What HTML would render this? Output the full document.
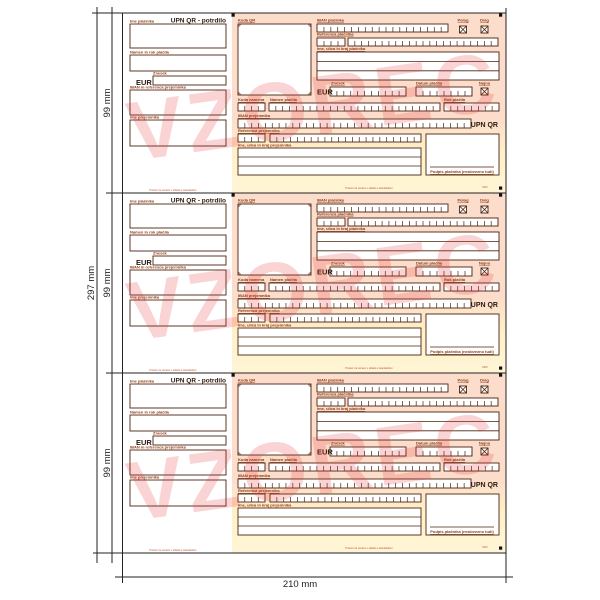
<!DOCTYPE html>
<html><head><meta charset="utf-8"><style>
html,body{margin:0;padding:0;background:#fff;}
svg{display:block;}
.l{font-family:"Liberation Sans",sans-serif;font-size:4px;font-weight:bold;fill:#8a3a16;text-decoration:underline;}
.t{font-family:"Liberation Sans",sans-serif;font-weight:bold;fill:#2a1a10;}
.tiny{font-family:"Liberation Sans",sans-serif;font-size:2.6px;fill:#c0502a;}
.d{font-family:"Liberation Sans",sans-serif;font-size:9.5px;fill:#222;}
.wm{font-family:"Liberation Sans",sans-serif;font-weight:bold;font-size:84px;fill:#e83030;opacity:0.2;}
</style></head><body>
<svg width="600" height="600" viewBox="0 0 600 600" xmlns="http://www.w3.org/2000/svg">
<defs>
<linearGradient id="gr" x1="0" y1="0" x2="0" y2="1">
<stop offset="0" stop-color="#fcdccb"/>
<stop offset="0.58" stop-color="#fcdccb"/>
<stop offset="0.78" stop-color="#fff1c8"/>
<stop offset="1" stop-color="#fff5d6"/>
</linearGradient>
<g id="b">
<rect x="232" y="0" width="274" height="180" fill="url(#gr)"/>
<g fill="#111">
<rect x="231.5" y="0.5" width="3.2" height="3.2"/>
<rect x="499" y="0.5" width="3.2" height="3.2"/>
<rect x="499" y="173.5" width="3.2" height="3.2"/>
</g>
<g fill="#fff" stroke="#4a2410" stroke-width="0.9">
<rect x="130" y="11" width="96" height="24"/>
<rect x="130" y="42" width="96" height="16"/>
<rect x="153" y="63" width="73" height="9"/>
<rect x="130" y="77" width="96" height="25"/>
<rect x="130" y="107" width="96" height="26"/>
<rect x="238" y="11" width="73" height="71"/>
<rect x="317" y="11" width="131" height="8"/>
<rect x="459.5" y="13" width="7" height="7"/>
<rect x="481" y="13" width="7" height="7"/>
<rect x="317" y="25" width="28" height="8"/>
<rect x="348" y="25" width="150" height="8"/>
<rect x="317" y="39" width="182" height="28"/>
<rect x="330" y="74" width="76" height="9"/>
<rect x="416" y="74" width="56" height="9"/>
<rect x="481" y="75" width="7" height="7"/>
<rect x="238" y="90" width="27" height="8"/>
<rect x="269" y="90" width="171" height="8"/>
<rect x="444" y="90" width="55" height="8"/>
<rect x="238" y="106" width="233" height="9"/>
<rect x="238" y="121" width="27" height="8"/>
<rect x="270" y="121" width="151" height="8"/>
<rect x="238" y="135" width="183" height="27"/>
<rect x="426" y="121" width="73" height="41"/>
</g>
<g stroke="#4a2410" stroke-width="0.8" fill="none">
<line x1="317" y1="48.5" x2="499" y2="48.5"/>
<line x1="317" y1="57.8" x2="499" y2="57.8"/>
<line x1="238" y1="144" x2="421" y2="144"/>
<line x1="238" y1="153" x2="421" y2="153"/>
<line x1="430" y1="154" x2="494" y2="154"/>
<path d="M459.5 13 L466.5 20 M466.5 13 L459.5 20 M481 13 L488 20 M488 13 L481 20 M481 75 L488 82 M488 75 L481 82"/>
<path d="M239 14 v-2 h2 M310 14 v-2 h-2 M239 79 v2 h2 M310 79 v2 h-2" stroke-width="0.6"/>
</g>
<g stroke="#4a2410" fill="none">
<line x1="323.6" y1="16.5" x2="448" y2="16.5" stroke-width="5" stroke-dasharray="0.7 6.195"/>
<line x1="323.65" y1="30.5" x2="345" y2="30.5" stroke-width="5" stroke-dasharray="0.7 6.3"/>
<line x1="354.47" y1="30.5" x2="498" y2="30.5" stroke-width="5" stroke-dasharray="0.7 6.118"/>
<line x1="336.56" y1="80.5" x2="406" y2="80.5" stroke-width="5" stroke-dasharray="0.7 6.209"/>
<line x1="422.65" y1="80.5" x2="472" y2="80.5" stroke-width="5" stroke-dasharray="0.7 6.3"/>
<line x1="244.4" y1="95.5" x2="265" y2="95.5" stroke-width="5" stroke-dasharray="0.7 6.05"/>
<line x1="275.49" y1="95.5" x2="440" y2="95.5" stroke-width="5" stroke-dasharray="0.7 6.14"/>
<line x1="450.52" y1="95.5" x2="499" y2="95.5" stroke-width="5" stroke-dasharray="0.7 6.175"/>
<line x1="244.5" y1="112.5" x2="471" y2="112.5" stroke-width="5" stroke-dasharray="0.7 6.153"/>
<line x1="244.4" y1="126.5" x2="265" y2="126.5" stroke-width="5" stroke-dasharray="0.7 6.05"/>
<line x1="276.51" y1="126.5" x2="421" y2="126.5" stroke-width="5" stroke-dasharray="0.7 6.164"/>
</g>
</g>
</defs>

<use href="#b" x="0" y="13"/>
<use href="#b" x="0" y="193"/>
<use href="#b" x="0" y="373"/>

<g stroke="#222" stroke-width="1" fill="none">
<line x1="97" y1="7" x2="97" y2="563"/>
<line x1="112" y1="7" x2="112" y2="563"/>
<line x1="122.5" y1="13" x2="122.5" y2="583"/>
<line x1="506" y1="8" x2="506" y2="583"/>
<line x1="92" y1="13" x2="506" y2="13"/>
<line x1="106" y1="193" x2="506" y2="193"/>
<line x1="106" y1="373" x2="506" y2="373"/>
<line x1="93" y1="553" x2="506" y2="553"/>
<line x1="115" y1="577" x2="513" y2="577"/>
</g>
<text class="d" transform="translate(94,283) rotate(-90)" text-anchor="middle">297 mm</text>
<text class="d" transform="translate(110,103) rotate(-90)" text-anchor="middle">99 mm</text>
<text class="d" transform="translate(110,283) rotate(-90)" text-anchor="middle">99 mm</text>
<text class="d" transform="translate(110,463) rotate(-90)" text-anchor="middle">99 mm</text>
<text class="d" x="300" y="587" text-anchor="middle">210 mm</text>

<g transform="translate(0,13)">
<text class="l" x="130" y="9.5">Ime plačnika</text>
<text class="l" x="130" y="40.5">Namen in rok plačila</text>
<text class="l" x="153" y="61.5">Znesek</text>
<text class="l" x="130" y="75.5">IBAN in referenca prejemnika</text>
<text class="l" x="130" y="105.5">Ime prejemnika</text>
<text class="t" x="226" y="9.5" font-size="6.5" text-anchor="end">UPN QR - potrdilo</text>
<text class="t" x="136" y="72" font-size="7.5">EUR</text>
<text class="l" x="238" y="8.5">Koda QR</text>
<text class="l" x="317" y="8.5">IBAN plačnika</text>
<text class="l" x="463" y="8.5" text-anchor="middle">Polog</text>
<text class="l" x="484.5" y="8.5" text-anchor="middle">Dvig</text>
<text class="l" x="317" y="22.5">Referenca plačnika</text>
<text class="l" x="317" y="37">Ime, ulica in kraj plačnika</text>
<text class="l" x="331" y="71.5">Znesek</text>
<text class="l" x="416" y="71.5">Datum plačila</text>
<text class="l" x="484.5" y="71.5" text-anchor="middle">Nujno</text>
<text class="t" x="317" y="81.5" font-size="7.5">EUR</text>
<text class="l" x="238" y="88">Koda namena</text>
<text class="l" x="270" y="88">Namen plačila</text>
<text class="l" x="444" y="88">Rok plačila</text>
<text class="l" x="238" y="104">IBAN prejemnika</text>
<text class="t" x="498" y="114" font-size="7" text-anchor="end">UPN QR</text>
<text class="l" x="238" y="119">Referenca prejemnika</text>
<text class="l" x="238" y="133.5">Ime, ulica in kraj prejemnika</text>
<text class="l" x="462" y="160" text-anchor="middle">Podpis plačnika (neobvezno tudi)</text>
<text class="tiny" x="173" y="178" text-anchor="middle">Prostor za vezavo v skladu s standardom</text>
<text class="tiny" x="369" y="176" text-anchor="middle">Prostor za vezavo v skladu s standardom</text>
<text class="tiny" x="482" y="175">UPN</text>
<text class="wm" x="132" y="148" transform="rotate(-8 132 148)" textLength="370" lengthAdjust="spacing">VZOREC</text>
</g>

<g transform="translate(0,193)">
<text class="l" x="130" y="9.5">Ime plačnika</text>
<text class="l" x="130" y="40.5">Namen in rok plačila</text>
<text class="l" x="153" y="61.5">Znesek</text>
<text class="l" x="130" y="75.5">IBAN in referenca prejemnika</text>
<text class="l" x="130" y="105.5">Ime prejemnika</text>
<text class="t" x="226" y="9.5" font-size="6.5" text-anchor="end">UPN QR - potrdilo</text>
<text class="t" x="136" y="72" font-size="7.5">EUR</text>
<text class="l" x="238" y="8.5">Koda QR</text>
<text class="l" x="317" y="8.5">IBAN plačnika</text>
<text class="l" x="463" y="8.5" text-anchor="middle">Polog</text>
<text class="l" x="484.5" y="8.5" text-anchor="middle">Dvig</text>
<text class="l" x="317" y="22.5">Referenca plačnika</text>
<text class="l" x="317" y="37">Ime, ulica in kraj plačnika</text>
<text class="l" x="331" y="71.5">Znesek</text>
<text class="l" x="416" y="71.5">Datum plačila</text>
<text class="l" x="484.5" y="71.5" text-anchor="middle">Nujno</text>
<text class="t" x="317" y="81.5" font-size="7.5">EUR</text>
<text class="l" x="238" y="88">Koda namena</text>
<text class="l" x="270" y="88">Namen plačila</text>
<text class="l" x="444" y="88">Rok plačila</text>
<text class="l" x="238" y="104">IBAN prejemnika</text>
<text class="t" x="498" y="114" font-size="7" text-anchor="end">UPN QR</text>
<text class="l" x="238" y="119">Referenca prejemnika</text>
<text class="l" x="238" y="133.5">Ime, ulica in kraj prejemnika</text>
<text class="l" x="462" y="160" text-anchor="middle">Podpis plačnika (neobvezno tudi)</text>
<text class="tiny" x="173" y="178" text-anchor="middle">Prostor za vezavo v skladu s standardom</text>
<text class="tiny" x="369" y="176" text-anchor="middle">Prostor za vezavo v skladu s standardom</text>
<text class="tiny" x="482" y="175">UPN</text>
<text class="wm" x="132" y="148" transform="rotate(-8 132 148)" textLength="370" lengthAdjust="spacing">VZOREC</text>
</g>

<g transform="translate(0,373)">
<text class="l" x="130" y="9.5">Ime plačnika</text>
<text class="l" x="130" y="40.5">Namen in rok plačila</text>
<text class="l" x="153" y="61.5">Znesek</text>
<text class="l" x="130" y="75.5">IBAN in referenca prejemnika</text>
<text class="l" x="130" y="105.5">Ime prejemnika</text>
<text class="t" x="226" y="9.5" font-size="6.5" text-anchor="end">UPN QR - potrdilo</text>
<text class="t" x="136" y="72" font-size="7.5">EUR</text>
<text class="l" x="238" y="8.5">Koda QR</text>
<text class="l" x="317" y="8.5">IBAN plačnika</text>
<text class="l" x="463" y="8.5" text-anchor="middle">Polog</text>
<text class="l" x="484.5" y="8.5" text-anchor="middle">Dvig</text>
<text class="l" x="317" y="22.5">Referenca plačnika</text>
<text class="l" x="317" y="37">Ime, ulica in kraj plačnika</text>
<text class="l" x="331" y="71.5">Znesek</text>
<text class="l" x="416" y="71.5">Datum plačila</text>
<text class="l" x="484.5" y="71.5" text-anchor="middle">Nujno</text>
<text class="t" x="317" y="81.5" font-size="7.5">EUR</text>
<text class="l" x="238" y="88">Koda namena</text>
<text class="l" x="270" y="88">Namen plačila</text>
<text class="l" x="444" y="88">Rok plačila</text>
<text class="l" x="238" y="104">IBAN prejemnika</text>
<text class="t" x="498" y="114" font-size="7" text-anchor="end">UPN QR</text>
<text class="l" x="238" y="119">Referenca prejemnika</text>
<text class="l" x="238" y="133.5">Ime, ulica in kraj prejemnika</text>
<text class="l" x="462" y="160" text-anchor="middle">Podpis plačnika (neobvezno tudi)</text>
<text class="tiny" x="173" y="178" text-anchor="middle">Prostor za vezavo v skladu s standardom</text>
<text class="tiny" x="369" y="176" text-anchor="middle">Prostor za vezavo v skladu s standardom</text>
<text class="tiny" x="482" y="175">UPN</text>
<text class="wm" x="132" y="148" transform="rotate(-8 132 148)" textLength="370" lengthAdjust="spacing">VZOREC</text>
</g>
</svg>
</body></html>
